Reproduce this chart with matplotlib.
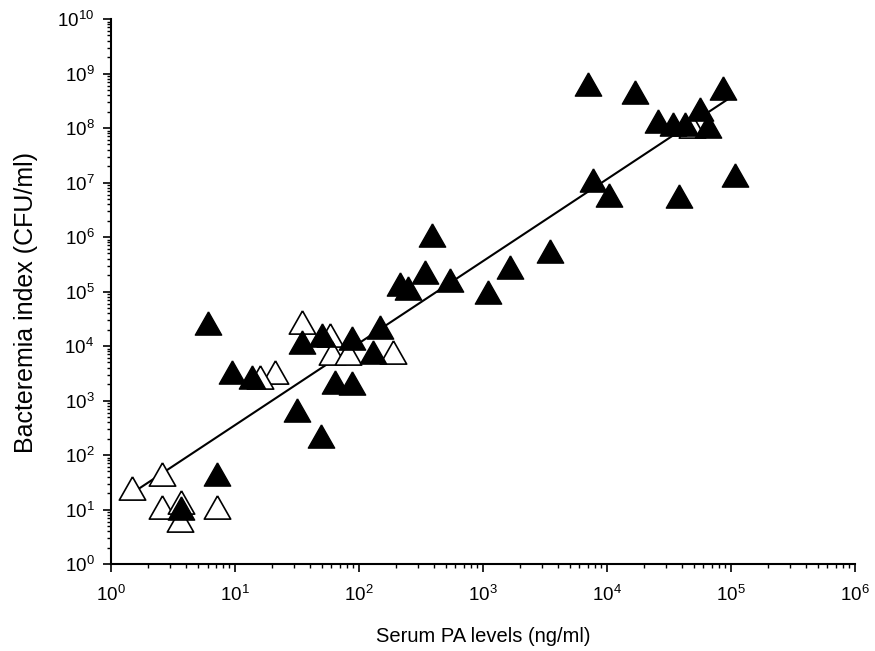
import matplotlib
matplotlib.use("Agg")
import matplotlib.pyplot as plt
from matplotlib.ticker import LogLocator, NullFormatter

plt.rcParams['font.family'] = ['Liberation Sans', 'DejaVu Sans']
plt.rcParams['mathtext.fontset'] = 'custom'
plt.rcParams['mathtext.rm'] = 'Liberation Sans'
plt.rcParams['mathtext.it'] = 'Liberation Sans:italic'
plt.rcParams['mathtext.bf'] = 'Liberation Sans:bold'

# Filled triangles (serum PA ng/ml, bacteremia CFU/ml)
filled_x = [6.1, 9.5, 13.7, 31.6, 49, 35, 50, 88, 148, 129, 64, 88,
            214, 250, 340, 388, 540, 1100, 1650, 3500,
            7700, 10400, 38000, 107000,
            7000, 17000, 86000, 26000, 34000, 43000, 56000, 65000,
            7.2, 3.7]
filled_y = [2.7e4, 3.4e3, 2.7e3, 6.8e2, 2.2e2, 1.2e4, 1.6e4, 1.4e4, 2.2e4, 7.9e3, 2.2e3, 2.1e3,
            1.35e5, 1.18e5, 2.3e5, 1.1e6, 1.65e5, 1.0e5, 2.8e5, 5.5e5,
            1.1e7, 5.8e6, 5.6e6, 1.4e7,
            6.4e8, 4.6e8, 5.4e8, 1.33e8, 1.18e8, 1.18e8, 2.2e8, 1.07e8,
            45, 10.7]

# Open triangles
open_x = [35, 58, 60.6, 81.6, 188, 21, 15.9,
          1.48, 2.6, 2.6, 3.7, 3.6, 7.2, 49000]
open_y = [2.8e4, 1.6e4, 7.6e3, 7.6e3, 7.9e3, 3.4e3, 2.7e3,
          25, 45, 11, 13.8, 6.4, 11.2, 1.07e8]

# Regression line end points
fit_x = [1.48, 9.5e4]
fit_y = [20, 3.4e8]

fig = plt.figure(figsize=(8.75, 6.51), dpi=100)
ax = fig.add_axes([0.1269, 0.1336, 0.977 - 0.1269, 0.9708 - 0.1336])

tri = [(0, 0.88), (-1, -0.88), (1, -0.88), (0, 0.88)]

ax.plot(fit_x, fit_y, color='black', lw=1.5, zorder=1)
ax.plot(open_x, open_y, linestyle='none', marker=tri, ms=19,
        mfc='white', mec='black', mew=1.2, zorder=2)
ax.plot(filled_x, filled_y, linestyle='none', marker=tri, ms=19,
        mfc='black', mec='black', mew=1.0, zorder=3)

ax.set_xscale('log')
ax.set_yscale('log')
ax.set_xlim(1, 1e6)
ax.set_ylim(1, 1e10)

ax.xaxis.set_major_locator(LogLocator(base=10, numticks=20))
ax.yaxis.set_major_locator(LogLocator(base=10, numticks=20))
ax.xaxis.set_minor_locator(LogLocator(base=10, subs=range(2, 10), numticks=100))
ax.yaxis.set_minor_locator(LogLocator(base=10, subs=range(2, 10), numticks=100))
ax.xaxis.set_minor_formatter(NullFormatter())
ax.yaxis.set_minor_formatter(NullFormatter())

for s in ['top', 'right']:
    ax.spines[s].set_visible(False)
for s in ['left', 'bottom']:
    ax.spines[s].set_linewidth(1.5)
    ax.spines[s].set_color('black')

ax.tick_params(which='major', direction='out', length=6, width=1.2, labelsize=13.5)
ax.tick_params(axis='x', which='major', pad=9)
ax.tick_params(axis='y', which='major', pad=6)
ax.tick_params(which='minor', direction='out', length=3, width=1.0)

ax.set_xlabel('Serum PA levels (ng/ml)', fontsize=14.5)
ax.xaxis.set_label_coords(0.5, -0.115)
ax.set_ylabel('Bacteremia index (CFU/ml)', fontsize=18)
ax.yaxis.set_label_coords(-0.098, 0.48)

fig.savefig('out.png', dpi=100)
